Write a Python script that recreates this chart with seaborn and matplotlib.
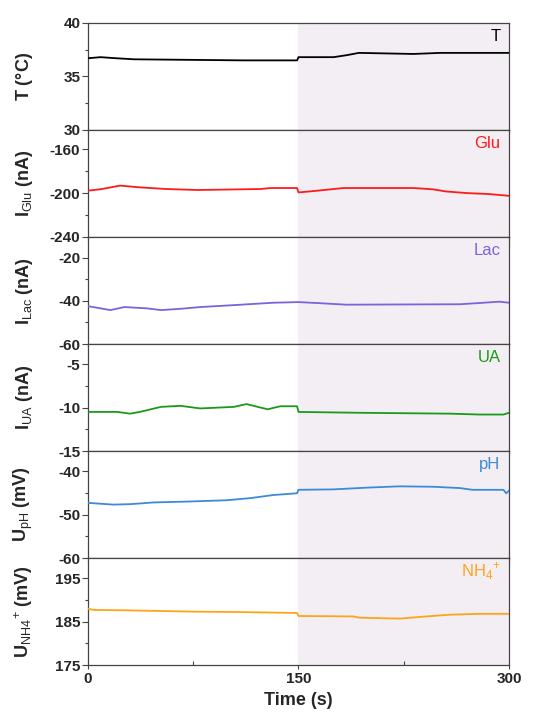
import matplotlib
matplotlib.use("Agg")
import matplotlib.pyplot as plt
import seaborn as sns
import pandas as pd
from matplotlib.ticker import FixedLocator

sns.set_style("ticks")
plt.rcParams['font.family'] = ['Liberation Sans', 'DejaVu Sans']
plt.rcParams['mathtext.fontset'] = 'custom'
plt.rcParams['mathtext.rm'] = 'Liberation Sans'
plt.rcParams['mathtext.bf'] = 'Liberation Sans:bold'
plt.rcParams['axes.unicode_minus'] = False

# ---- data ----
t_T = [0, 9, 20, 33, 111, 149, 150, 175, 185, 193, 232, 251, 300]
v_T = [36.7, 36.8, 36.7, 36.6, 36.5, 36.5, 36.8, 36.8, 37.0, 37.2, 37.1, 37.2, 37.2]

t_glu = [0, 9, 23, 37, 56, 78, 123, 130, 149, 150, 158, 173, 182, 232, 246, 255, 270, 286, 300]
v_glu = [-197.8, -196.5, -193.2, -194.8, -196.3, -197.2, -196.3, -195.4, -195.4, -199.4,
         -198.5, -196.6, -195.4, -195.4, -196.6, -198.5, -200.0, -200.9, -202.5]

t_lac = [0, 9, 16, 26, 42, 52, 66, 80, 104, 132, 150, 165, 184, 265, 282, 293, 300]
v_lac = [-42.5, -43.5, -44.3, -42.9, -43.5, -44.3, -43.7, -42.9, -42.0, -40.9, -40.6,
         -41.1, -41.8, -41.6, -40.9, -40.4, -40.9]

t_ua = [0, 21, 30, 37, 52, 66, 80, 104, 113, 123, 128, 137, 149, 150, 194, 258, 279, 296, 300]
v_ua = [-10.5, -10.5, -10.7, -10.5, -9.92, -9.8, -10.1, -9.92, -9.6, -10.0, -10.2, -9.85,
        -9.85, -10.5, -10.6, -10.7, -10.8, -10.8, -10.6]

t_ph = [0, 18, 30, 47, 71, 99, 116, 132, 149, 150, 175, 199, 222, 246, 265, 274, 296, 298, 300]
v_ph = [-47.3, -47.7, -47.6, -47.2, -47.0, -46.7, -46.2, -45.5, -45.1, -44.3, -44.2,
        -43.8, -43.5, -43.6, -43.9, -44.3, -44.3, -45.1, -44.5]

t_nh4 = [0, 4, 28, 75, 109, 149, 150, 189, 194, 222, 241, 258, 279, 300]
v_nh4 = [188.0, 187.7, 187.6, 187.3, 187.2, 187.0, 186.3, 186.2, 185.9, 185.7, 186.2,
         186.6, 186.8, 186.8]

names = ["T", "Glu", "Lac", "UA", "pH", "NH$_4$$^{+}$"]
colors = ["#000000", "#ff1a1a", "#7d62dc", "#1a9a1a", "#3d8ad8", "#ffa31a"]
ylabels = [r"T ($\mathbf{°}$C)", r"I$_{\mathrm{Glu}}$ (nA)", r"I$_{\mathrm{Lac}}$ (nA)",
           r"I$_{\mathrm{UA}}$ (nA)", r"U$_{\mathrm{pH}}$ (mV)", r"U$_{\mathrm{NH4}}$$^{+}$ (mV)"]
ylims = [(30, 40), (-240, -142.5), (-60, -10.5), (-15, -2.7), (-60, -35.4), (175, 199.6)]
major_ticks = [[30, 35, 40], [-240, -200, -160], [-60, -40, -20], [-15, -10, -5],
               [-60, -50, -40], [175, 185, 195]]
minor_ticks = [[32.5, 37.5], [-220, -180], [-50, -30], [-12.5, -7.5], [-55, -45], [180, 190]]
x_ticks = [0, 150, 300]
x_minor = [75, 225]

series = [(t_T, v_T), (t_glu, v_glu), (t_lac, v_lac), (t_ua, v_ua), (t_ph, v_ph), (t_nh4, v_nh4)]

fig, axes = plt.subplots(6, 1, figsize=(5.33, 7.16), dpi=100, sharex=True)
fig.subplots_adjust(left=0.165, right=0.955, top=0.968, bottom=0.071, hspace=0)

for i, ax in enumerate(axes):
    t, v = series[i]
    df = pd.DataFrame({"t": t, "v": v})
    ax.axvspan(150, 300, color="#f3eef3", lw=0, zorder=0)
    sns.lineplot(data=df, x="t", y="v", ax=ax, color=colors[i], lw=1.3, zorder=3)
    ax.set_xlim(0, 300)
    ax.set_ylim(*ylims[i])
    ax.yaxis.set_major_locator(FixedLocator(major_ticks[i]))
    ax.yaxis.set_minor_locator(FixedLocator(minor_ticks[i]))
    ax.xaxis.set_major_locator(FixedLocator(x_ticks))
    ax.xaxis.set_minor_locator(FixedLocator(x_minor))
    ax.set_ylabel(ylabels[i], fontsize=13, fontweight='bold')
    ax.yaxis.set_label_coords(-0.125, 0.5)
    ax.set_xlabel("")
    for s in ax.spines.values():
        s.set_visible(True)
        s.set_color("#444444")
        s.set_linewidth(0.9)
    ax.tick_params(axis='y', which='major', direction='out', length=4, width=0.8,
                   labelsize=11, color="#444444", pad=1.5)
    ax.tick_params(axis='y', which='minor', direction='out', length=2.5, width=0.8,
                   color="#444444")
    if i < 5:
        ax.tick_params(axis='x', which='both', direction='out', length=3, width=0.8,
                       labelbottom=False, color="#444444")
    else:
        ax.tick_params(axis='x', which='major', direction='out', length=3, width=0.8,
                       labelsize=11, color="#444444", pad=2)
        ax.tick_params(axis='x', which='minor', direction='in', length=3, width=0.8,
                       color="#444444")
    for lab in ax.get_yticklabels() + ax.get_xticklabels():
        lab.set_fontweight('bold')
    ax.text(0.98, 0.875, names[i], transform=ax.transAxes, ha='right', va='center',
            fontsize=12, color=colors[i], zorder=5)

axes[-1].set_xlabel("Time (s)", fontsize=13, fontweight='bold', labelpad=4)

fig.savefig("out.png", dpi=100)
